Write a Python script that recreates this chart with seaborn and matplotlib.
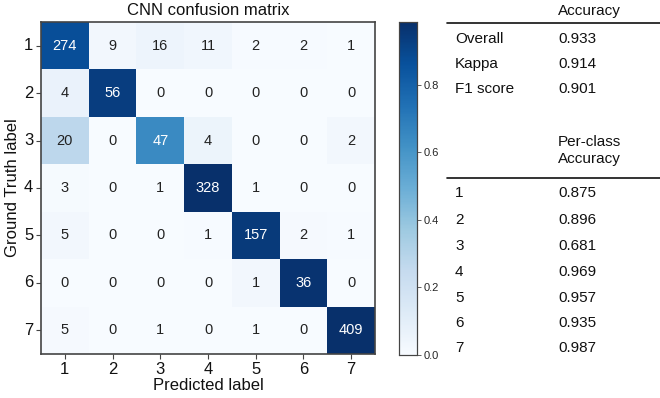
import numpy as np
import pandas as pd
import matplotlib
matplotlib.use("Agg")
import matplotlib.pyplot as plt
from matplotlib.lines import Line2D
import seaborn as sns

labels = ["1", "2", "3", "4", "5", "6", "7"]
counts = [
    [274, 9, 16, 11, 2, 2, 1],
    [4, 56, 0, 0, 0, 0, 0],
    [20, 0, 47, 4, 0, 0, 2],
    [3, 0, 1, 328, 1, 0, 0],
    [5, 0, 0, 1, 157, 2, 1],
    [0, 0, 0, 0, 1, 36, 0],
    [5, 0, 1, 0, 1, 0, 409],
]
summary_names = ["Overall", "Kappa", "F1 score"]
summary_values = ["0.933", "0.914", "0.901"]
class_acc = ["0.875", "0.896", "0.681", "0.969", "0.957", "0.935", "0.987"]

sns.set_theme(style="white")
plt.rcParams["font.family"] = ["Liberation Sans", "DejaVu Sans"]

cm = np.array(counts, dtype=float)
norm = cm / cm.sum(axis=1, keepdims=True)
df = pd.DataFrame(norm, index=labels, columns=labels)

W, H = 660, 398
fig = plt.figure(figsize=(6.6, 3.98), dpi=100)
ax = fig.add_axes([41 / W, 1 - 354 / H, 334 / W, 332 / H])
cax = fig.add_axes([399 / W, 1 - 355 / H, 18 / W, 333 / H])

sns.heatmap(df, ax=ax, cbar_ax=cax, cmap="Blues", vmin=0, vmax=norm.max(),
            annot=False, square=False, linewidths=0)

thresh = norm.max() / 2
for i in range(len(labels)):
    for j in range(len(labels)):
        ax.text(j + 0.5, i + 0.5, str(counts[i][j]), ha="center", va="center",
                fontsize=10.5, color="white" if norm[i, j] > thresh else "#222222")

for sp in ax.spines.values():
    sp.set_visible(True)
    sp.set_color("#444444")
    sp.set_linewidth(1.2)
ax.tick_params(axis="both", length=3.5, width=0.8, color="#444444",
               labelsize=12, labelcolor="#111111", bottom=True, left=True, pad=2)
ax.set_yticklabels(labels, rotation=0)
ax.set_xticklabels(labels, rotation=0)
ax.set_title("CNN confusion matrix", fontsize=12, color="#111111", pad=5)
ax.set_xlabel("Predicted label", fontsize=12, color="#111111", labelpad=1)
ax.set_ylabel("Ground Truth label", fontsize=12, color="#111111", labelpad=3)

cax.tick_params(labelsize=8, length=3, width=0.6, color="#444444", pad=2, right=True)
cax.set_yticks([0.0, 0.2, 0.4, 0.6, 0.8])
cax.set_yticklabels(["0.0", "0.2", "0.4", "0.6", "0.8"])
for sp in cax.spines.values():
    sp.set_visible(True)
    sp.set_color("#444444")
    sp.set_linewidth(0.8)

def fy(py):
    return 1 - py / H

tx0, tx1 = 455 / W, 558 / W
fs = 11
fig.text(tx1, fy(15), "Accuracy", fontsize=fs, va="baseline", color="#111111")
fig.add_artist(Line2D([447 / W, 1.0], [fy(23), fy(23)], color="#111111", lw=1.2))
for k, (n, v) in enumerate(zip(summary_names, summary_values)):
    yb = [43, 68, 93][k]
    fig.text(tx0, fy(yb), n, fontsize=fs, va="baseline", color="#111111")
    fig.text(tx1, fy(yb), v, fontsize=fs, va="baseline", color="#111111")
fig.text(tx1, fy(146), "Per-class", fontsize=fs, va="baseline", color="#111111")
fig.text(tx1, fy(163), "Accuracy", fontsize=fs, va="baseline", color="#111111")
fig.add_artist(Line2D([447 / W, 1.0], [fy(178), fy(178)], color="#111111", lw=1.2))
rows_b = [197, 224, 250, 276, 302, 327, 352]
for lab, v, yb in zip(labels, class_acc, rows_b):
    fig.text(tx0, fy(yb), lab, fontsize=fs, va="baseline", color="#111111")
    fig.text(tx1, fy(yb), v, fontsize=fs, va="baseline", color="#111111")

fig.savefig("out.png", dpi=100)
